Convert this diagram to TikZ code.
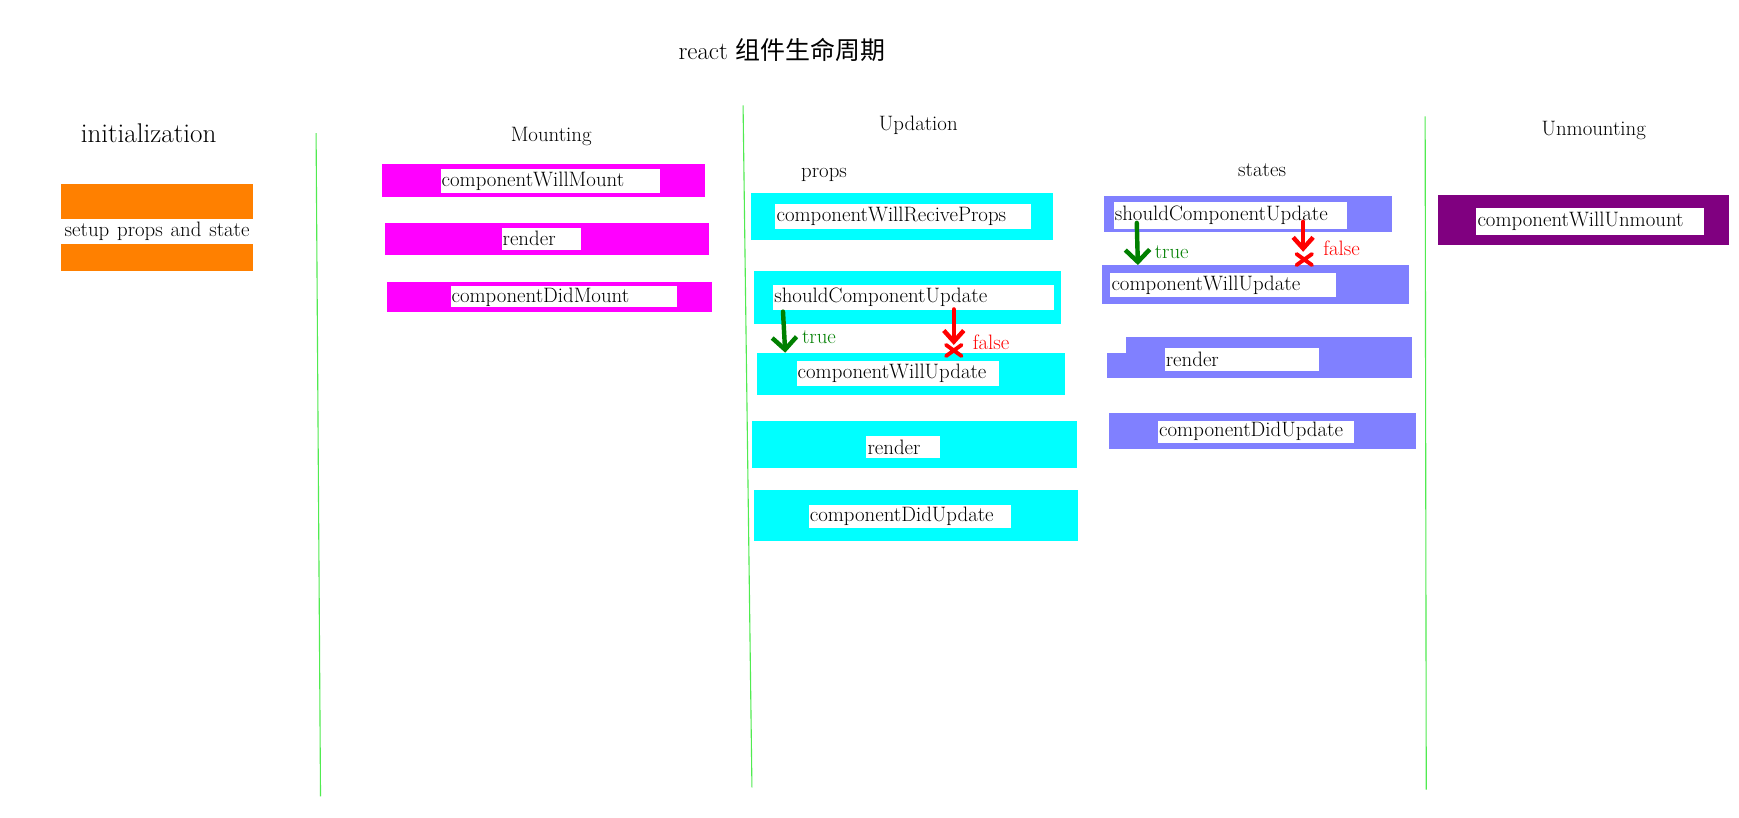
\documentclass[tikz,border=0pt]{standalone}
\usepackage{fontspec}
\newfontfamily\cjk{Noto Sans CJK SC}
\usetikzlibrary{arrows.meta}
\definecolor{initcol}{RGB}{255,128,0}
\definecolor{mountcol}{RGB}{255,0,255}
\definecolor{propscol}{RGB}{0,255,255}
\definecolor{statecol}{RGB}{128,128,255}
\definecolor{unmountcol}{RGB}{128,0,128}
\definecolor{sepcol}{RGB}{80,235,80}
\definecolor{truecol}{RGB}{0,128,0}
\def\txt{\fontsize{18.8}{22}\selectfont}
\def\nocross{++(-7,-5) -- ++(14,10) ++(0,-10) -- ++(-14,10)}
\tikzset{
  lbl/.style={fill=white, anchor=north west, inner xsep=1pt, inner ysep=0pt,
    align=left, font=\txt},
  head/.style={font=\txt, inner sep=0pt},
  sep/.style={draw=sepcol, line width=1pt},
  yesarrow/.style={draw=truecol, line width=4pt, line cap=round, line join=round,
    -{Straight Barb[length=11pt,width=22pt]}},
  noarrow/.style={draw=red, line width=4pt, line cap=round, line join=round,
    -{Straight Barb[length=10pt,width=18pt]}},
  nomark/.style={draw=red, line width=3.5pt, line cap=round},
  yeslbl/.style={text=truecol, fill=white, inner sep=1pt, anchor=west, font=\txt},
  nolbl/.style={text=red, fill=white, inner sep=1pt, anchor=west, font=\txt}
}
\begin{document}
\begin{tikzpicture}[x=1pt,y=-1pt]
  \fill[white] (0,0) rectangle (1568,737);
  \useasboundingbox (0,0) rectangle (1568,737);
  % title and headings
  \node[font=\fontsize{22.5}{26}\selectfont] (title) at (705,45) {react {\cjk 组件生命周期}};
  \node[font=\fontsize{24.4}{28}\selectfont, inner sep=0pt] (init) at (134,120) {initialization};
  \node[head] (mount) at (497,123) {Mounting};
  \node[head] (upd) at (828,113) {Updation};
  \node[head] (props) at (743,158) {props};
  \node[head] (states) at (1138,153) {states};
  \node[head] (unmount) at (1437,118) {Unmounting};
  % separators
  \draw[sep] (285,120) -- (289,718);
  \draw[sep] (670,95) -- (678,710);
  \draw[sep] (1285,105) -- (1286,712);
  % initialization
  \fill[initcol] (55,166) rectangle (228,244);
  \node[lbl, text width=171pt, minimum height=23pt, align=center] (setup) at (55,197)
    {\spaceskip=7pt setup props and state};
  % mounting
  \fill[mountcol] (344,148) rectangle (636,178);
  \fill[mountcol] (347,201) rectangle (639,230);
  \fill[mountcol] (349,254) rectangle (642,281);
  \node[lbl, text width=196pt, minimum height=22pt] (cwm) at (397,152) {componentWillMount};
  \node[lbl, text width=70pt, minimum height=20pt] (mrender) at (452,205) {render};
  \node[lbl, text width=202pt, minimum height=19pt] (cdm) at (406,258) {componentDidMount};
  % updation: props
  \fill[propscol] (677,174) rectangle (949,216);
  \fill[propscol] (680,244) rectangle (957,292);
  \fill[propscol] (683,318) rectangle (960,356);
  \fill[propscol] (678,380) rectangle (971,422);
  \fill[propscol] (680,442) rectangle (972,488);
  \node[lbl, text width=228pt, minimum height=22pt] (pcwrp) at (699,184) {componentWillReciveProps};
  \node[lbl, text width=251pt, minimum height=22pt] (pscu) at (697,257) {shouldComponentUpdate};
  \node[lbl, text width=181pt, minimum height=23pt] (pcwu) at (718,325) {componentWillUpdate};
  \node[lbl, text width=64pt, minimum height=20pt] (prender) at (781,393) {render};
  \node[lbl, text width=180pt, minimum height=21pt] (pcdu) at (729,455) {componentDidUpdate};
  % updation: states
  \fill[statecol] (995,177) rectangle (1255,209);
  \fill[statecol] (994,239) rectangle (1270,274);
  \fill[statecol] (1015,304) rectangle (1273,341);
  \fill[statecol] (998,318) rectangle (1015,341);
  \fill[statecol] (1000,372) rectangle (1277,405);
  \node[lbl, text width=208pt, minimum height=24pt] (sscu) at (1004,182) {shouldComponentUpdate};
  \node[lbl, text width=201pt, minimum height=22pt] (scwu) at (1001,246) {componentWillUpdate};
  \node[lbl, text width=137pt, minimum height=20pt] (srender) at (1050,314) {render};
  \node[lbl, text width=175pt, minimum height=20pt] (scdu) at (1044,379) {componentDidUpdate};
  % unmounting
  \fill[unmountcol] (1297,176) rectangle (1559,221);
  \node[lbl, text width=203pt, minimum height=25pt] (cwu) at (1331,187) {componentWillUnmount};
  % true / false marks
  \coordinate (ptA) at (706,281);
  \coordinate (ptB) at (708,318);
  \coordinate (pfA) at (860,279);
  \coordinate (pfB) at (860,311);
  \coordinate (pfX) at (860,316);
  \coordinate (stA) at (1025,201);
  \coordinate (stB) at (1026,239);
  \coordinate (sfA) at (1175,200);
  \coordinate (sfB) at (1175,227);
  \coordinate (sfX) at (1176,234);
  \draw[yesarrow] (ptA) -- (ptB);
  \draw[noarrow] (pfA) -- (pfB);
  \draw[nomark] (pfX) \nocross;
  \draw[yesarrow] (stA) -- (stB);
  \draw[noarrow] (sfA) -- (sfB);
  \draw[nomark] (sfX) \nocross;
  \node[yeslbl] (ptrue) at (722,304) {true};
  \node[nolbl] (pfalse) at (876,309) {false};
  \node[yeslbl] (strue) at (1040,227) {true};
  \node[nolbl] (sfalse) at (1192,224) {false};
\end{tikzpicture}
\end{document}
